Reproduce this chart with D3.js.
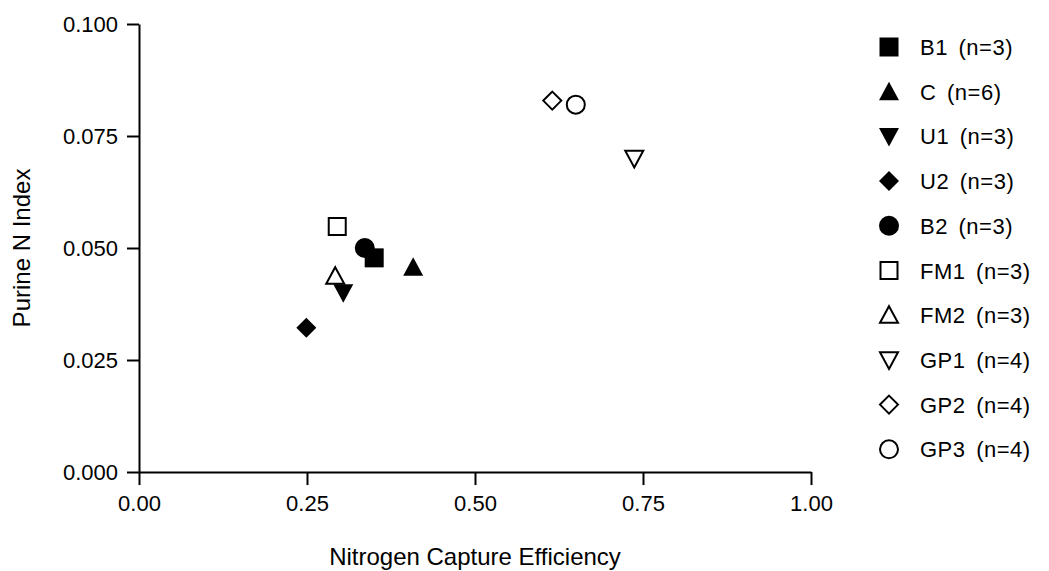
<!DOCTYPE html>
<html>
<head>
<meta charset="utf-8">
<script src="https://cdn.jsdelivr.net/npm/d3@7"></script>
<style>
  body { margin: 0; background: #fff; }
  text { font-family: "Liberation Sans", Arial, sans-serif; fill: #000; }
</style>
</head>
<body>
<div id="chart"></div>
<script>
// data
const groups = ["B1 (n=3)", "C (n=6)", "U1 (n=3)", "U2 (n=3)", "B2 (n=3)",
                "FM1 (n=3)", "FM2 (n=3)", "GP1 (n=4)", "GP2 (n=4)", "GP3 (n=4)"]
const nce = [0.350, 0.408, 0.304, 0.249, 0.336, 0.295, 0.292, 0.737, 0.615, 0.650]
const pni = [0.0478, 0.0457, 0.0400, 0.0322, 0.0500, 0.0548, 0.0437, 0.0700, 0.0829, 0.0820]
const shapes = ["square", "triangle", "down", "diamond", "circle",
                "square", "triangle", "down", "diamond", "circle"]
const filled = [true, true, true, true, true, false, false, false, false, false]

const xTicks = [0, 0.25, 0.5, 0.75, 1]
const yTicks = [0, 0.025, 0.05, 0.075, 0.1]

const w = 1049
const h = 571

// symbol types sized by half-width r (size arg = r)
const sym = {
  square: { draw(ctx, r) { ctx.rect(-r, -r, 2*r, 2*r) } },
  circle: { draw(ctx, r) { ctx.moveTo(r, 0); ctx.arc(0, 0, r, 0, 2*Math.PI) } },
  triangle: { draw(ctx, r) { ctx.moveTo(0, -r); ctx.lineTo(r, r*0.85); ctx.lineTo(-r, r*0.85); ctx.closePath() } },
  down: { draw(ctx, r) { ctx.moveTo(0, r); ctx.lineTo(r, -r*0.85); ctx.lineTo(-r, -r*0.85); ctx.closePath() } },
  diamond: { draw(ctx, r) { ctx.moveTo(0, -r); ctx.lineTo(r, 0); ctx.lineTo(0, r); ctx.lineTo(-r, 0); ctx.closePath() } }
}
const halfSize = {square: 9.5, circle: 10, triangle: 10, down: 10, diamond: 10}

const markerPath = (i) => {
  const r = halfSize[shapes[i]] - (filled[i] ? 0 : 1)
  return d3.symbol().type(sym[shapes[i]]).size(r)()
}

const svg = d3.select("#chart").append("svg")
  .attr("width", w)
  .attr("height", h)

const x = d3.scaleLinear().domain([0, 1]).range([139, 811])
const y = d3.scaleLinear().domain([0, 0.1]).range([472, 24])

// x axis
const xAxis = d3.axisBottom(x)
  .tickValues(xTicks)
  .tickFormat(d3.format(".2f"))
  .tickSize(13)
  .tickPadding(10)
  .tickSizeOuter(0)
svg.append("g")
  .attr("transform", `translate(0,${y(0)})`)
  .call(xAxis)
  .call(g => g.select(".domain").attr("stroke-width", 2))
  .call(g => g.selectAll(".tick line").attr("stroke-width", 2))
  .call(g => g.selectAll(".tick text").style("font-size", "22px").attr("font-family", null))

// y axis
const yAxis = d3.axisLeft(y)
  .tickValues(yTicks)
  .tickFormat(d3.format(".3f"))
  .tickSize(12)
  .tickPadding(9)
  .tickSizeOuter(0)
svg.append("g")
  .attr("transform", `translate(${x(0)},0)`)
  .call(yAxis)
  .call(g => g.select(".domain").attr("stroke-width", 2))
  .call(g => g.selectAll(".tick line").attr("stroke-width", 2))
  .call(g => g.selectAll(".tick text").style("font-size", "22px").attr("font-family", null))

// axis titles
svg.append("text")
  .attr("x", (x(0) + x(1)) / 2)
  .attr("y", 565)
  .attr("text-anchor", "middle")
  .style("font-size", "24px")
  .text("Nitrogen Capture Efficiency")

svg.append("text")
  .attr("transform", `translate(30,${(y(0) + y(0.1)) / 2}) rotate(-90)`)
  .attr("text-anchor", "middle")
  .style("font-size", "24px")
  .text("Purine N Index")

// points, last series first
const idx = d3.range(groups.length).reverse()
svg.append("g")
  .selectAll("path")
  .data(idx)
  .join("path")
  .attr("transform", i => `translate(${x(nce[i])},${y(pni[i])})`)
  .attr("d", i => markerPath(i))
  .attr("fill", i => filled[i] ? "#000" : "#fff")
  .attr("stroke", "#000")
  .attr("stroke-width", i => filled[i] ? 0 : 2)

// legend
const legend = svg.append("g").attr("transform", "translate(889,47)")
const item = legend.selectAll(".legend-item")
  .data(d3.range(groups.length))
  .join("g")
  .attr("class", "legend-item")
  .attr("transform", i => `translate(0,${i * 44.7})`)

item.append("path")
  .attr("d", i => markerPath(i))
  .attr("fill", i => filled[i] ? "#000" : "#fff")
  .attr("stroke", "#000")
  .attr("stroke-width", i => filled[i] ? 0 : 2)

item.append("text")
  .attr("x", 31)
  .attr("y", 8)
  .style("font-size", "22px")
  .style("word-spacing", "4px")
  .style("letter-spacing", "0.5px")
  .text(i => groups[i])
</script>
</body>
</html>
